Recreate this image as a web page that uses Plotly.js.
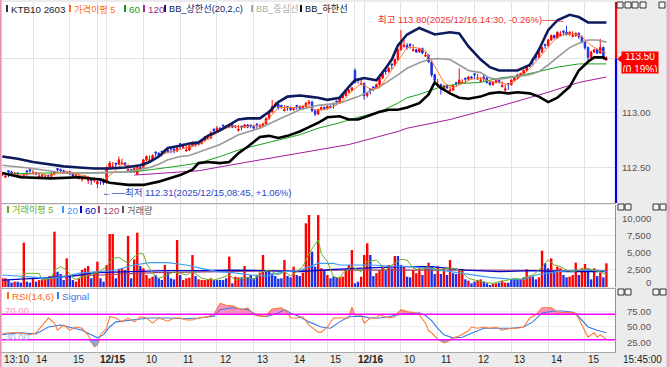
<!DOCTYPE html>
<html><head><meta charset="utf-8">
<script src="https://cdn.plot.ly/plotly-3.0.1.min.js"></script>
<style>html,body{margin:0;padding:0;background:#ececec;overflow:hidden}#chart{width:670px;height:367px}</style>
</head><body><div id="chart"></div>
<script>
// ---------------- DATA (5-minute bars, index 0 = 12/12 13:10) ----------------
const openP = [112.43,112.41,112.47,112.46,112.43,112.45,112.42,112.41,112.47,112.48,
112.44,112.45,112.41,112.42,112.40,112.43,112.42,112.44,112.49,112.48,
112.47,112.45,112.46,112.44,112.42,112.40,112.39,112.40,112.38,112.39,
112.38,112.35,112.40,112.39,112.36,112.50,112.50,112.54,112.53,112.53,
112.54,112.47,112.48,112.46,112.44,112.50,112.50,112.57,112.56,112.57,
112.64,112.63,112.65,112.64,112.66,112.68,112.67,112.65,112.72,112.68,
112.65,112.66,112.70,112.72,112.71,112.72,112.75,112.76,112.77,112.85,
112.84,112.86,112.89,112.88,112.87,112.89,112.87,112.84,112.88,112.87,
112.89,112.89,112.88,112.90,112.87,112.88,112.90,112.95,113.01,113.06,
113.08,113.07,113.02,113.06,113.05,113.03,113.07,113.06,113.04,113.06,
113.09,113.10,113.02,112.99,113.03,113.05,113.04,113.06,113.09,113.11,
113.10,113.14,113.16,113.19,113.21,113.39,113.31,113.26,113.27,113.16,
113.22,113.24,113.23,113.26,113.32,113.39,113.38,113.45,113.44,113.49,
113.58,113.61,113.62,113.63,113.57,113.58,113.56,113.59,113.52,113.53,
113.47,113.35,113.25,113.26,113.22,113.25,113.20,113.21,113.28,113.27,
113.27,113.32,113.31,113.33,113.36,113.31,113.29,113.33,113.32,113.28,
113.26,113.28,113.30,113.24,113.21,113.27,113.26,113.30,113.32,113.35,
113.36,113.39,113.43,113.50,113.52,113.51,113.56,113.63,113.62,113.67,
113.71,113.69,113.71,113.75,113.74,113.72,113.70,113.71,113.73,113.70,
113.65,113.60,113.51,113.56,113.58,113.55,113.60,113.49];
const highP = [112.46,112.45,112.47,112.47,112.46,112.46,112.43,112.44,112.47,112.49,
112.48,112.46,112.45,112.44,112.44,112.43,112.45,112.47,112.49,112.49,
112.48,112.47,112.47,112.45,112.44,112.44,112.42,112.43,112.42,112.40,
112.41,112.38,112.40,112.40,112.51,112.56,112.55,112.54,112.60,112.58,
112.55,112.53,112.49,112.50,112.51,112.51,112.58,112.61,112.61,112.62,
112.65,112.64,112.65,112.67,112.67,112.68,112.68,112.69,112.72,112.72,
112.70,112.71,112.74,112.73,112.73,112.76,112.79,112.79,112.83,112.86,
112.88,112.87,112.89,112.89,112.90,112.90,112.89,112.89,112.88,112.90,
112.90,112.89,112.89,112.90,112.90,112.91,112.96,113.02,113.12,113.10,
113.09,113.07,113.07,113.06,113.06,113.05,113.07,113.07,113.07,113.10,
113.12,113.11,113.03,113.04,113.06,113.06,113.07,113.07,113.09,113.11,
113.15,113.17,113.20,113.22,113.24,113.41,113.31,113.31,113.28,113.19,
113.22,113.24,113.27,113.33,113.37,113.39,113.42,113.45,113.50,113.59,
113.76,113.67,113.64,113.64,113.63,113.59,113.60,113.60,113.56,113.54,
113.48,113.36,113.31,113.27,113.26,113.26,113.24,113.26,113.28,113.41,
113.31,113.32,113.34,113.34,113.36,113.36,113.33,113.35,113.33,113.29,
113.29,113.31,113.31,113.29,113.26,113.27,113.31,113.33,113.36,113.37,
113.40,113.44,113.45,113.50,113.52,113.57,113.61,113.63,113.68,113.72,
113.72,113.75,113.75,113.76,113.80,113.75,113.75,113.74,113.74,113.71,
113.66,113.61,113.57,113.59,113.59,113.68,113.61,113.52];
const lowP = [112.42,112.41,112.41,112.42,112.42,112.41,112.40,112.40,112.42,112.45,
112.44,112.43,112.41,112.41,112.40,112.40,112.41,112.43,112.45,112.46,
112.44,112.44,112.43,112.41,112.41,112.39,112.37,112.39,112.35,112.34,
112.36,112.31,112.34,112.34,112.35,112.49,112.50,112.50,112.52,112.53,
112.51,112.47,112.45,112.45,112.43,112.47,112.49,112.56,112.56,112.56,
112.60,112.60,112.60,112.63,112.63,112.63,112.63,112.64,112.67,112.68,
112.65,112.65,112.69,112.69,112.70,112.71,112.74,112.76,112.76,112.81,
112.83,112.84,112.84,112.86,112.86,112.86,112.86,112.83,112.84,112.86,
112.86,112.86,112.85,112.85,112.87,112.87,112.89,112.94,113.00,113.05,
113.03,113.04,113.02,113.02,113.02,113.02,113.03,113.03,113.03,113.05,
113.07,113.01,112.97,112.98,113.02,113.03,113.03,113.04,113.04,113.07,
113.09,113.13,113.15,113.18,113.20,113.27,113.27,113.26,113.12,113.14,
113.17,113.20,113.22,113.25,113.31,113.35,113.37,113.40,113.43,113.48,
113.57,113.60,113.58,113.59,113.57,113.55,113.55,113.54,113.52,113.46,
113.33,113.28,113.24,113.17,113.21,113.22,113.19,113.20,113.24,113.26,
113.27,113.27,113.30,113.31,113.31,113.31,113.29,113.29,113.27,113.25,
113.25,113.27,113.27,113.24,113.19,113.21,113.25,113.29,113.31,113.34,
113.35,113.38,113.42,113.43,113.48,113.50,113.55,113.59,113.61,113.66,
113.68,113.68,113.71,113.71,113.71,113.71,113.70,113.70,113.68,113.64,
113.58,113.47,113.50,113.55,113.54,113.54,113.49,113.48];
const closeP = [112.44,112.42,112.46,112.43,112.45,112.42,112.41,112.43,112.46,112.47,
112.45,112.44,112.42,112.43,112.41,112.42,112.44,112.46,112.48,112.47,
112.45,112.46,112.44,112.42,112.43,112.41,112.40,112.42,112.39,112.38,
112.40,112.37,112.39,112.36,112.50,112.54,112.51,112.53,112.57,112.54,
112.52,112.48,112.46,112.49,112.50,112.49,112.57,112.60,112.57,112.61,
112.63,112.61,112.64,112.66,112.64,112.67,112.65,112.68,112.71,112.69,
112.66,112.70,112.72,112.71,112.72,112.75,112.78,112.77,112.82,112.84,
112.86,112.85,112.88,112.87,112.89,112.87,112.88,112.85,112.87,112.89,
112.87,112.88,112.86,112.89,112.88,112.90,112.95,113.01,113.06,113.08,
113.05,113.06,113.03,113.05,113.03,113.04,113.06,113.04,113.06,113.09,
113.10,113.02,112.99,113.03,113.05,113.04,113.06,113.05,113.08,113.10,
113.14,113.16,113.19,113.21,113.23,113.28,113.30,113.27,113.16,113.18,
113.21,113.23,113.26,113.32,113.36,113.38,113.41,113.44,113.49,113.58,
113.65,113.62,113.60,113.62,113.58,113.56,113.59,113.55,113.53,113.47,
113.35,113.30,113.26,113.22,113.25,113.23,113.21,113.25,113.27,113.30,
113.28,113.31,113.33,113.32,113.35,113.32,113.30,113.32,113.28,113.26,
113.28,113.30,113.28,113.25,113.22,113.26,113.30,113.32,113.35,113.36,
113.39,113.43,113.44,113.49,113.51,113.56,113.60,113.62,113.67,113.71,
113.69,113.74,113.72,113.74,113.72,113.74,113.71,113.73,113.70,113.65,
113.60,113.51,113.56,113.58,113.55,113.60,113.50,113.50];
const volume = [1260,1260,1010,630,770,770,630,6430,770,630,
1350,770,1010,1110,1260,1400,1500,8020,2220,1880,
1010,4150,1740,1010,770,1260,2460,2710,3040,1260,
2220,3670,1260,770,3190,7680,7680,1260,2560,2710,
2460,7390,1260,4010,7870,3040,2710,1740,1260,1500,
1740,1260,1010,3190,2220,1260,1110,6810,1740,1010,
1260,1350,4640,1590,1110,1010,1010,1110,1260,1010,
1000,1010,1010,1260,4400,530,1500,1400,1400,3040,
1400,1740,1260,1590,2080,4640,2220,2460,1980,1590,
1200,1260,3910,1590,1400,2950,1740,1590,2080,9230,
10430,5120,2950,10430,2710,2460,1740,1260,1500,1400,
1400,1500,2560,3190,5360,530,770,1500,4640,6330,
4640,1590,2000,2460,2950,2370,3190,2710,4490,4490,
3190,2950,1500,1400,2460,2000,2710,1740,2950,3530,
2950,1880,2950,1880,2710,1740,3910,2000,1880,2460,
2560,1110,920,530,770,1010,1110,770,530,290,
500,530,630,920,630,630,1010,1110,1110,1110,
1400,2560,1500,1500,1110,1400,5270,3430,2710,4150,
2220,2950,2710,1740,1400,1500,1740,3530,1740,2710,
3330,2560,1110,2710,1590,2080,1400,3430];
// volume bar direction (1 = up/red, 0 = down/blue)
const volUp = [1,1,0,0,1,0,0,1,0,0, 1,0,1,1,1,0,1,1,0,0, 0,1,0,0,1,1,1,1,1,0, 1,1,0,0,1,1,1,0,1,1,
0,1,0,1,1,0,1,1,1,1, 0,0,0,1,0,0,0,1,0,1, 1,1,1,0,1,1,1,1,1,0, 0,0,0,0,1,0,1,1,0,1,
0,0,0,0,1,1,0,0,0,0, 0,0,1,0,0,1,0,0,1,1, 1,0,0,1,1,0,1,0,0,0, 1,1,1,1,1,0,0,1,1,1,
0,0,1,1,1,0,1,0,1,0, 0,1,0,0,1,1,1,0,1,1, 0,0,1,0,1,0,1,0,0,1, 1,0,1,0,0,1,1,0,0,0,
1,1,0,1,1,0,0,0,0,0, 1,1,1,0,0,1,1,0,0,1, 0,1,1,0,0,1,1,1,0,1, 1,0,0,1,0,1,0,1];

// price indicators (bar index, value)
const ma5X = [0,3,6,9,12,15,18,21,24,27,30,33,36,39,42,45,48,51,54,57,60,63,66,69,72,75,78,81,84,87,90,93,96,99,102,105,108,111,114,117,120,123,126,129,132,135,138,141,144,147,150,153,156,159,162,165,168,171,174,177,180,183,186,189,192,195,197];
const ma5Y = [112.44,112.44,112.43,112.44,112.45,112.42,112.45,112.46,112.44,112.42,112.39,112.38,112.45,112.53,112.51,112.48,112.55,112.60,112.64,112.66,112.68,112.70,112.74,112.80,112.85,112.88,112.87,112.88,112.88,112.95,113.05,113.05,113.05,113.07,113.03,113.03,113.06,113.11,113.20,113.27,113.22,113.23,113.35,113.47,113.60,113.60,113.57,113.43,113.28,113.23,113.27,113.31,113.32,113.29,113.28,113.26,113.31,113.38,113.47,113.57,113.67,113.72,113.73,113.70,113.62,113.57,113.55];
const bbUpX = [0,5,10,15,20,25,30,35,40,45,48,51,54,58,61,64,67,71,74,77,80,84,87,90,93,97,100,103,106,110,113,115,118,122,125,127,129,132,136,139,141,146,149,152,156,159,162,165,168,172,175,178,181,185,188,191,194,197];
const bbUpY = [112.60,112.58,112.55,112.53,112.51,112.50,112.49,112.49,112.50,112.52,112.55,112.60,112.68,112.70,112.72,112.73,112.79,112.84,112.89,112.94,112.95,112.95,113.01,113.10,113.15,113.16,113.15,113.14,113.12,113.14,113.24,113.30,113.32,113.30,113.41,113.49,113.62,113.72,113.78,113.74,113.72,113.74,113.73,113.61,113.49,113.42,113.39,113.39,113.39,113.44,113.58,113.76,113.85,113.90,113.88,113.83,113.83,113.83];
const bbMidX = [0,10,20,30,40,45,48,51,54,58,61,64,71,77,84,90,97,103,110,116,123,129,132,136,139,142,146,149,152,156,159,162,165,168,172,175,178,181,185,188,191,194,197];
const bbMidY = [112.52,112.49,112.45,112.45,112.46,112.48,112.50,112.53,112.57,112.60,112.61,112.64,112.71,112.80,112.86,112.94,113.03,113.07,113.09,113.15,113.24,113.35,113.41,113.46,113.49,113.50,113.49,113.44,113.39,113.37,113.32,113.31,113.32,113.33,113.35,113.38,113.44,113.51,113.60,113.64,113.67,113.67,113.65];
const bbLoX = [0,6,16,25,32,35,41,46,51,58,62,64,67,71,74,77,80,84,87,90,93,97,100,103,106,110,113,116,119,123,126,129,132,136,139,141,143,146,149,152,156,159,162,165,168,172,175,178,181,185,188,191,193,196,197];
const bbLoY = [112.45,112.41,112.40,112.41,112.39,112.36,112.34,112.34,112.37,112.43,112.48,112.54,112.55,112.54,112.55,112.63,112.69,112.78,112.79,112.77,112.79,112.83,112.87,112.91,112.96,112.97,112.94,112.94,112.97,113.01,113.03,113.03,113.05,113.09,113.17,113.28,113.23,113.18,113.14,113.13,113.15,113.18,113.19,113.18,113.19,113.18,113.15,113.10,113.14,113.24,113.39,113.47,113.51,113.51,113.49];
const ma60X = [0,16,32,43,54,64,71,77,84,90,97,103,110,116,123,129,132,136,142,149,156,162,168,175,181,188,194,197];
const ma60Y = [112.44,112.45,112.45,112.46,112.50,112.54,112.60,112.66,112.71,112.75,112.80,112.86,112.91,112.96,113.01,113.09,113.14,113.17,113.23,113.27,113.28,113.32,113.34,113.38,113.42,113.45,113.45,113.45];
const ma120X = [43,54,64,80,97,113,129,132,146,162,178,188,197];
const ma120Y = [112.43,112.45,112.47,112.55,112.63,112.71,112.83,112.86,112.94,113.06,113.19,113.28,113.33];

// volume moving averages
const vma5X = [6,7,12,13,16,17,19,21,23,24,28,31,34,36,38,41,43,45,46,47,49,51,54,56,58,60,62,65,67,69,71,74,76,80,82,85,87,90,92,94,96,98,100,103,104,106,108,110,111,114,117,119,122,123,125,127,130,132,134,136,139,140,143,145,147,149,152,154,156,158,160,162,165,167,169,171,173,175,178,180,182,184,186,188,191,193,195,197];
const vma5Y = [1010,1980,1980,1010,1260,2460,2950,2460,1260,1110,1740,2080,2950,4150,4290,3430,4400,4880,4780,3430,1980,1260,1740,2220,1980,1740,2220,1260,1110,1010,1260,1740,1010,1400,1110,2220,2460,1740,2220,1590,2220,2950,4880,6810,4880,3670,1500,1260,1980,2950,2220,3670,3910,3430,2460,3190,4010,3910,2710,2460,2950,2710,2460,2710,2710,2460,1260,1010,770,630,530,770,1010,1260,1110,1500,1740,2460,3910,3190,2950,2460,2220,2460,2710,2370,2220,1740];
const vma20X = [0,16,21,26,32,37,43,48,54,60,65,70,75,81,86,92,97,103,108,110,113,120,126,133,139,146,153,159,166,170,174,181,187,194,197];
const vma20Y = [1740,1260,1590,2080,2220,2460,3190,3530,3530,3190,2710,2220,2080,1740,1590,2220,2370,3430,3430,3190,3190,3190,3040,2950,2710,2220,1740,1400,1110,1110,1740,2220,2460,2460,2220];
const vma60X = [0,15,21,31,42,53,64,75,86,97,108,119,130,140,151,162,173,184,197];
const vma60Y = [1010,1400,1500,2080,2220,2370,2370,2460,2370,2220,2560,2710,2950,2950,2460,2220,2370,2220,2220];
const vma120X = [15,30,50,80,110,150,197];
const vma120Y = [1500,1700,2080,2220,2460,2460,2370];

// RSI(14,6) and signal
const rsiX = [0,2,6,9,11,13,15,17,18,20,22,24,26,28,30,31,32,34,35,37,39,41,43,45,47,49,51,54,56,58,60,62,64,67,69,71,73,75,78,80,82,84,86,88,91,93,94,96,98,100,103,104,106,108,111,113,114,115,117,118,120,122,123,126,128,130,132,135,136,138,139,140,142,144,145,147,149,152,153,155,157,159,161,163,166,168,170,172,174,176,179,181,183,185,187,189,191,193,194,195,197];
const rsiY = [39,41,41,38,41,53,64,56,45,53,45,50,48,37,19,22,38,48,66,64,58,64,58,66,64,56,64,59,64,64,61,61,64,66,70,87,84,83,77,80,69,67,67,78,80,73,64,64,66,53,42,42,50,64,64,64,81,69,69,56,64,64,69,64,66,77,74,72,69,56,44,41,31,25,27,33,36,44,50,48,50,48,50,45,48,48,50,64,69,80,80,73,73,73,72,53,34,41,34,38,30];
const sigX = [0,6,11,15,19,23,26,29,31,33,35,37,43,48,54,59,64,69,71,75,80,83,86,90,92,94,97,100,104,107,110,113,117,120,123,126,130,134,136,138,140,142,144,147,150,154,157,161,166,170,173,176,180,183,186,188,191,194,197];
const sigY = [38,41,39,50,53,48,45,38,33,38,50,58,61,64,64,63,64,67,77,80,77,69,66,72,77,72,66,58,50,48,58,66,67,64,64,66,70,72,72,68,60,48,38,33,34,42,48,48,48,50,58,72,75,75,73,66,50,45,41];

// axis labels
const timeTickIdx = [0,10,22,31,46,58,70,82,94,106,115,130,142,154,166,178,190];
const timeTickText = ['13:10','14','15','12/15','10','11','12','13','14','15','12/16','10','11','12','13','14','15'];
const extraGridIdx = [34,118];
const priceTicks = [112.5,113.0,113.5];
const volTicks = [0,2500,5000,7500,10000];
const rsiTicks = [25,50,75];
const rsiLevels = [70,30];
const highInfo = {idx:184, text:'최고 113.80(2025/12/16.14:30, -0.26%)'};
const lowInfo = {idx:31, text:'최저 112.31(2025/12/15,08:45, +1.06%)'};
const lastChangeText = '(0.19%)';

// ---------------- LAYOUT HELPERS ----------------
const L=2, T=2, W=613, H=350;
const px = x => (x-L)/W;
const py = y => (T+H-y)/H;
const idx = closeP.map((_,i)=>i);
const FONT = 'Liberation Sans, Noto Sans CJK KR, sans-serif';
const RED='#ff0000', BLUE='#1a2fe6';
const lastClose = closeP[closeP.length-1];
const yMain=[112.174,114.018], yVol=[0,11884], yRsi=[10.9,109.4];

const traces = [];
traces.push({type:'candlestick', x:idx, open:openP, high:highP, low:lowP, close:closeP, xaxis:'x', yaxis:'y',
  increasing:{line:{color:RED,width:1},fillcolor:RED}, decreasing:{line:{color:BLUE,width:1},fillcolor:BLUE},
  whiskerwidth:0, hoverinfo:'skip'});
const line=(x,y,ya,color,w)=>({type:'scatter',mode:'lines',x,y,yaxis:ya,line:{color,width:w},hoverinfo:'skip'});
traces.push(line(ma120X,ma120Y,'y','#a21ca2',1));
traces.push(line(ma60X,ma60Y,'y','#19a319',1));
traces.push(line(bbMidX,bbMidY,'y','#999999',1.6));
traces.push(line(ma5X,ma5Y,'y','#ff7a33',1));
traces.push(line(bbUpX,bbUpY,'y','#0d1a5e',2.6));
traces.push(line(bbLoX,bbLoY,'y','#000000',2.6));
// volume
traces.push({type:'bar', x:idx, y:volume, yaxis:'y2', marker:{color:volUp.map(u=>u?RED:BLUE), line:{width:0}}, hoverinfo:'skip'});
traces.push(line(vma120X,vma120Y,'y2','#a0416e',1.2));
traces.push(line(vma60X,vma60Y,'y2','#0000cc',1.2));
traces.push(line(vma20X,vma20Y,'y2','#3d9bff',1.2));
traces.push(line(vma5X,vma5Y,'y2','#6cae1e',1));
// RSI fills
traces.push({type:'scatter',mode:'lines',x:rsiX,y:rsiX.map(()=>rsiLevels[0]),yaxis:'y3',line:{width:0},hoverinfo:'skip'});
traces.push({type:'scatter',mode:'lines',x:rsiX,y:rsiY.map(v=>Math.max(v,rsiLevels[0])),yaxis:'y3',line:{width:0},fill:'tonexty',fillcolor:'rgba(255,110,170,0.75)',hoverinfo:'skip'});
traces.push({type:'scatter',mode:'lines',x:rsiX,y:rsiX.map(()=>rsiLevels[1]),yaxis:'y3',line:{width:0},hoverinfo:'skip'});
traces.push({type:'scatter',mode:'lines',x:rsiX,y:rsiY.map(v=>Math.min(v,rsiLevels[1])),yaxis:'y3',line:{width:0},fill:'tonexty',fillcolor:'rgba(90,170,240,0.85)',hoverinfo:'skip'});
traces.push(line(sigX,sigY,'y3','#3a78e8',1.1));
traces.push(line(rsiX,rsiY,'y3','#ff7a33',1.1));

// ---------------- ANNOTATIONS ----------------
const ann = [];
const txt=(x,y,text,color,size,anchor,extra)=>Object.assign({xref:'paper',yref:'paper',x:px(x),y:py(y),text,showarrow:false,xanchor:anchor||'left',yanchor:'middle',font:{family:FONT,size:size||10,color}},extra||{});
const shapes = [];
const rect=(x0,y0,x1,y1,color,lc)=>({type:'rect',xref:'paper',yref:'paper',x0:px(x0),x1:px(x1),y0:py(y0),y1:py(y1),fillcolor:color,line:{width:lc?1:0,color:lc||color}});
// legends (Latin-only labels slightly larger than labels with Hangul)
const lgSize = t => /[\uac00-\ud7a3]/.test(t) ? 9.2 : 9.8;
const mainLegend=[[6,'KTB10 2603','#333','#222'],[69,'가격이평 5','#ff6a1a','#ff6a1a'],[124,'60','#119911','#119911'],[143,'120','#9a2a9a','#9a2a9a'],[164,'BB_상한선(20,2,c)','#0d1a5e','#0d1a5e'],[251,'BB_중심선','#aaaaaa','#aaaaaa'],[300,'BB_하한선','#111','#111']];
mainLegend.forEach(([mx,t,mc,tc])=>{shapes.push(rect(mx,5,mx+2,12,mc));ann.push(txt(mx+3,9,t,tc,lgSize(t)));});
const volLegend=[[7,'거래이평 5','#6cae1e'],[62,'20','#3d9bff'],[80,'60','#0000cc'],[98,'120','#a0416e'],[122,'거래량','#555555']];
volLegend.forEach(([mx,t,c])=>{shapes.push(rect(mx,206,mx+2,213,c));ann.push(txt(mx+3,210,t,c,lgSize(t)));});
const rsiLegend=[[7,'RSI(14,6)','#ff6a1a'],[57,'Signal','#3a78e8']];
rsiLegend.forEach(([mx,t,c])=>{shapes.push(rect(mx,292,mx+2,299,c));ann.push(txt(mx+3,296,t,c,lgSize(t)));});
ann.push(txt(3,310,rsiLevels[0].toFixed(2),'#ff8fb8',9.6));
ann.push(txt(3,336,rsiLevels[1].toFixed(2),'#8cbcf0',9.6));
// high / low markers
ann.push({xref:'x',yref:'paper',x:highInfo.idx,y:py(20),xanchor:'right',yanchor:'middle',showarrow:false,text:highInfo.text+'──→',font:{family:FONT,size:9.5,color:'#f03030'}});
ann.push({xref:'x',yref:'paper',x:lowInfo.idx+1,y:py(192),xanchor:'left',yanchor:'middle',showarrow:false,text:'←──'+lowInfo.text,font:{family:FONT,size:9.5,color:'#2a46c8'}});
// x labels
timeTickIdx.forEach((k,j)=>{const t=timeTickText[j];ann.push({xref:'x',yref:'paper',x:k,y:py(359),xanchor:'left',yanchor:'middle',xshift:k===0?0:1,showarrow:false,text:t.includes('/')?'<b>'+t+'</b>':t,font:{family:FONT,size:10,color:'#222'}});});
ann.push(txt(642,359,'15:45:00','#222',10,'center'));
// right axis labels
const AX=9.6;
priceTicks.filter(v=>v!==113.5).forEach(v=>ann.push({xref:'paper',yref:'y',x:px(653),y:v,xanchor:'right',yanchor:'middle',showarrow:false,text:v.toFixed(2),font:{family:FONT,size:AX,color:'#555'}}));
volTicks.forEach(v=>ann.push({xref:'paper',yref:'y2',x:px(653),y:v,yshift:v===0?5:0,xanchor:'right',yanchor:'middle',showarrow:false,text:v.toLocaleString('en-US'),font:{family:FONT,size:AX,color:'#555'}}));
rsiTicks.forEach(v=>ann.push({xref:'paper',yref:'y3',x:px(653),y:v,xanchor:'right',yanchor:'middle',showarrow:false,text:v.toFixed(2),font:{family:FONT,size:AX,color:'#555'}}));
// current price box
ann.push({xref:'paper',yref:'y',x:px(640),y:lastClose,yshift:-4,xanchor:'center',yanchor:'middle',showarrow:false,align:'center',text:lastClose.toFixed(2)+'<br>'+lastChangeText,font:{family:FONT,size:10,color:'#ffffff'},bgcolor:RED,borderpad:1,width:34,height:19});
shapes.push({type:'path',xref:'paper',yref:'paper',path:`M ${px(617)} ${py(59)} L ${px(622)} ${py(55)} L ${px(622)} ${py(63)} Z`,fillcolor:RED,line:{width:0}});

// ---------------- SHAPES ----------------
shapes.push({type:'line',xref:'paper',yref:'y',x0:1+1/W,x1:1+1/W,y0:lastClose,y1:yMain[1],line:{color:RED,width:2.2}});
shapes.push({type:'line',xref:'paper',yref:'y',x0:1+1/W,x1:1+1/W,y0:yMain[0],y1:lastClose,line:{color:'#0000ee',width:2.2}});
rsiLevels.forEach(v=>shapes.push({type:'line',xref:'paper',yref:'y3',x0:0,x1:1,y0:v,y1:v,line:{color:'#ff00ff',width:1.6}}));
[203.5,288.5,352.5].forEach(y=>shapes.push({type:'line',xref:'paper',yref:'paper',x0:px(0),x1:px(616),y0:py(y),y1:py(y),line:{color:'#a8a8a8',width:1}}));
shapes.push(rect(0,0,1.5,367,'#e890b0'));
shapes.push(rect(666.5,0,670,367,'#f0a8c4'));
// small panel buttons
const btn=(x,y,w)=>{shapes.push(rect(x,y,x+w,y+6,'#f4f4f4','#333'));};
[617,625,632,640].forEach(x=>btn(x,2,6)); btn(659,2,6);
[[204],[289]].forEach(([y])=>{btn(618,y,6);btn(625,y,6);btn(653,y,6);btn(660,y,6);});

const gridIdx = timeTickIdx.slice(1).concat(extraGridIdx);
const layout = {
  width:670, height:367, margin:{l:L,r:670-L-W,t:T,b:367-T-H,pad:0},
  paper_bgcolor:'#ececec', plot_bgcolor:'#ffffff', showlegend:false, bargap:0.22,
  font:{family:FONT,size:10,color:'#333'},
  xaxis:{range:[-0.11,199.8], tickvals:gridIdx, showticklabels:false, ticks:'', showgrid:true, gridcolor:'#e2e2e2', gridwidth:1, zeroline:false, showline:false, rangeslider:{visible:false}, anchor:'y3', fixedrange:true},
  yaxis:{domain:[py(203),1], range:yMain, tickvals:priceTicks, showticklabels:false, ticks:'', showgrid:true, gridcolor:'#e2e2e2', zeroline:false, showline:false, side:'right', fixedrange:true},
  yaxis2:{domain:[py(287),py(205)], range:yVol, tickvals:volTicks.slice(1), showticklabels:false, ticks:'', showgrid:true, gridcolor:'#e8e8e8', zeroline:false, showline:true, linecolor:'#909090', side:'right', fixedrange:true},
  yaxis3:{domain:[0,py(289)], range:yRsi, tickvals:rsiTicks, showticklabels:false, ticks:'', showgrid:true, gridcolor:'#eeeeee', zeroline:false, showline:true, linecolor:'#909090', side:'right', fixedrange:true},
  annotations:ann, shapes:shapes
};
Plotly.newPlot('chart', traces, layout, {displayModeBar:false, staticPlot:true});
</script></body></html>
